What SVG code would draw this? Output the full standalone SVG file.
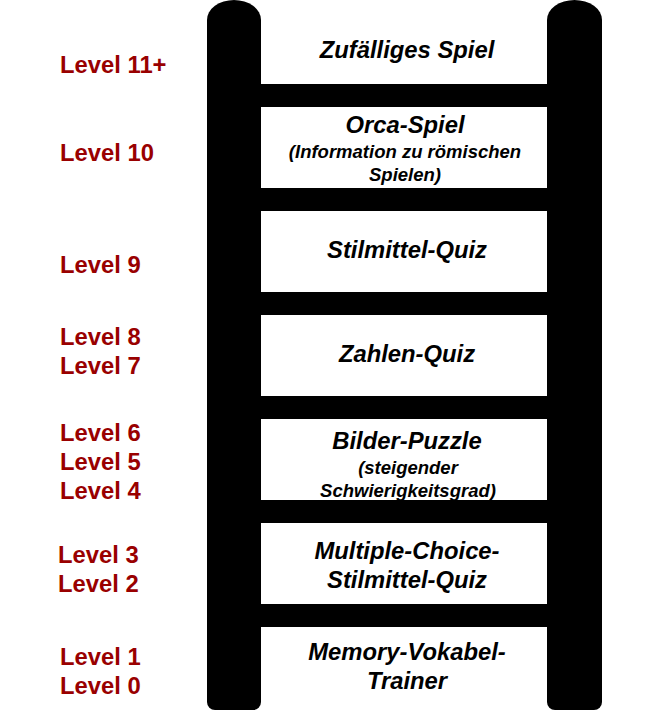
<svg xmlns="http://www.w3.org/2000/svg" width="670" height="710" viewBox="0 0 670 710">
<style>
.rail{fill:#000}
.rung{fill:#000}
.t{font-family:"Liberation Sans",Arial,sans-serif;font-weight:bold;font-style:italic;font-size:23.8px;fill:#000;text-anchor:middle}
.s{font-family:"Liberation Sans",Arial,sans-serif;font-weight:bold;font-style:italic;font-size:18.5px;fill:#000;text-anchor:middle}
.lv{font-family:"Liberation Sans",Arial,sans-serif;font-weight:bold;font-size:23.8px;fill:#990000}
</style>
<rect width="670" height="710" fill="#fff"/>
<g id="ladder">
<path class="rail" d="M207,20 A27,20 0 0 1 261,20 V702 A8,8 0 0 1 253,710 H215 A8,8 0 0 1 207,702 Z"/>
<path class="rail" d="M547,20 A27.5,20 0 0 1 602,20 V702 A8,8 0 0 1 594,710 H555 A8,8 0 0 1 547,702 Z"/>
<rect class="rung" x="260" y="84" width="288" height="23"/>
<rect class="rung" x="260" y="188" width="288" height="23"/>
<rect class="rung" x="260" y="292" width="288" height="23"/>
<rect class="rung" x="260" y="396" width="288" height="23"/>
<rect class="rung" x="260" y="500" width="288" height="23"/>
<rect class="rung" x="260" y="604" width="288" height="23"/>
</g>
<g id="step-zufall"><text class="t" x="407" y="58">Zufälliges Spiel</text></g>
<g id="step-orca"><text class="t" x="405" y="133">Orca-Spiel</text><text class="s" x="405" y="158">(Information zu römischen</text><text class="s" x="405" y="181">Spielen)</text></g>
<g id="step-stilmittel"><text class="t" x="407" y="258">Stilmittel-Quiz</text></g>
<g id="step-zahlen"><text class="t" x="407" y="362">Zahlen-Quiz</text></g>
<g id="step-bilder"><text class="t" x="407" y="449">Bilder-Puzzle</text><text class="s" x="408" y="474">(steigender</text><text class="s" x="408" y="497">Schwierigkeitsgrad)</text></g>
<g id="step-mc"><text class="t" x="407" y="559">Multiple-Choice-</text><text class="t" x="407" y="588">Stilmittel-Quiz</text></g>
<g id="step-memory"><text class="t" x="407" y="660">Memory-Vokabel-</text><text class="t" x="407" y="689">Trainer</text></g>
<g id="levels">
<text class="lv" x="60" y="73">Level 11+</text>
<text class="lv" x="60" y="161">Level 10</text>
<text class="lv" x="60" y="273">Level 9</text>
<text class="lv" x="60" y="345">Level 8</text>
<text class="lv" x="60" y="374">Level 7</text>
<text class="lv" x="60" y="441">Level 6</text>
<text class="lv" x="60" y="470">Level 5</text>
<text class="lv" x="60" y="499">Level 4</text>
<text class="lv" x="58" y="563">Level 3</text>
<text class="lv" x="58" y="592">Level 2</text>
<text class="lv" x="60" y="665">Level 1</text>
<text class="lv" x="60" y="694">Level 0</text>
</g>
</svg>
